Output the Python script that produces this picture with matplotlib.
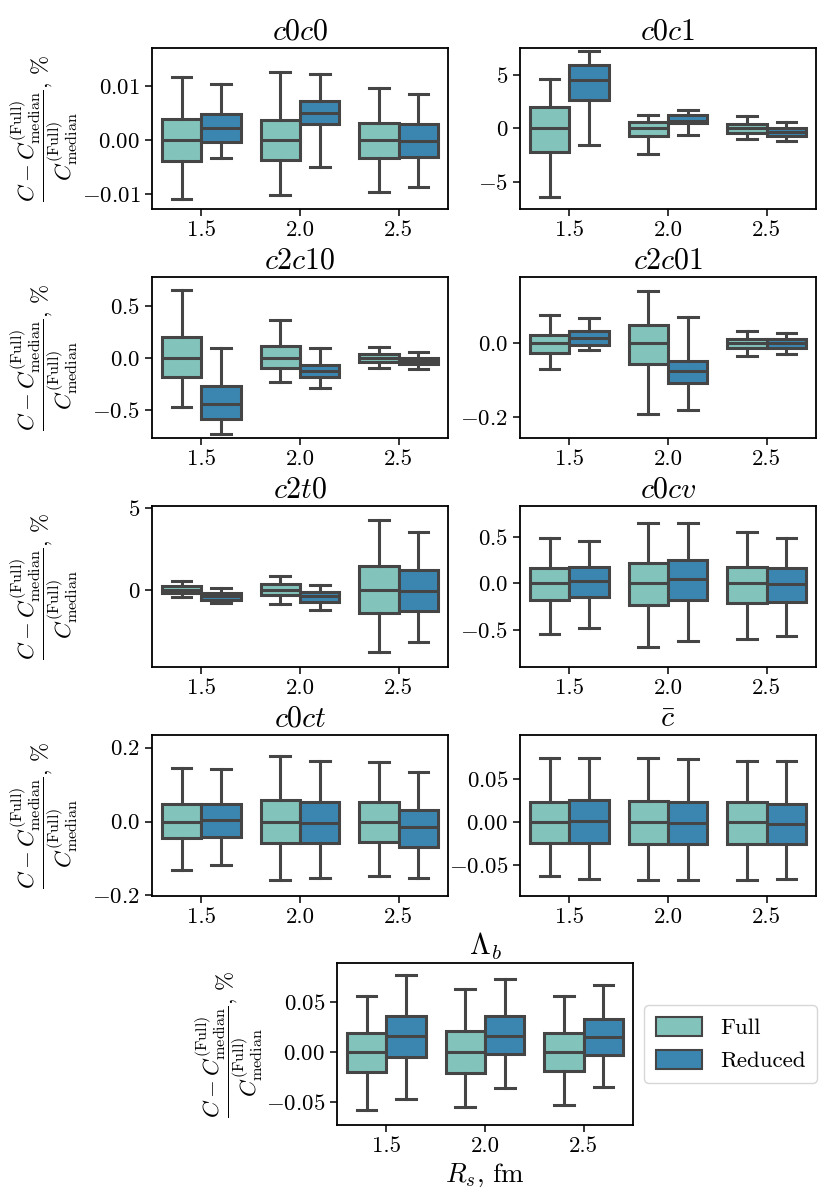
import matplotlib.pyplot as plt
from matplotlib.patches import Patch

plt.rcParams['font.family'] = 'serif'
plt.rcParams['font.serif'] = ['cmr10']
plt.rcParams['mathtext.fontset'] = 'cm'
plt.rcParams['axes.formatter.use_mathtext'] = True

radii = ['1.5', '2.0', '2.5']
groups = ['Full', 'Reduced']

# each row is one R_s: (lower whisker, Q1, median, Q3, upper whisker)
c0c0_full = [[-0.0110, -0.0039, 0.0, 0.0039, 0.0117],
             [-0.0102, -0.0037, 0.0, 0.0038, 0.0127],
             [-0.0096, -0.0034, 0.0, 0.0032, 0.0096]]
c0c0_red = [[-0.0033, -0.0004, 0.0023, 0.0048, 0.0104],
            [-0.0050, 0.0029, 0.0050, 0.0073, 0.0122],
            [-0.0087, -0.0032, -0.0001, 0.0030, 0.0086]]

c0c1_full = [[-6.41, -2.22, 0.0, 2.00, 4.69],
             [-2.44, -0.72, 0.0, 0.62, 1.31],
             [-1.00, -0.40, 0.0, 0.40, 1.15]]
c0c1_red = [[-1.60, 2.66, 4.53, 5.94, 7.28],
            [-0.63, 0.47, 0.72, 1.22, 1.69],
            [-1.19, -0.69, -0.30, 0.0, 0.59]]

c2c10_full = [[-0.465, -0.183, 0.0, 0.205, 0.650],
              [-0.225, -0.096, 0.0, 0.115, 0.366],
              [-0.093, -0.042, 0.0, 0.042, 0.106]]
c2c10_red = [[-0.725, -0.587, -0.440, -0.266, 0.102],
             [-0.289, -0.186, -0.122, -0.064, 0.096],
             [-0.100, -0.058, -0.030, 0.005, 0.060]]

c2c01_full = [[-0.0687, -0.026, 0.0, 0.0236, 0.076],
              [-0.191, -0.056, 0.0, 0.049, 0.143],
              [-0.0326, -0.0117, 0.0, 0.012, 0.0326]]
c2c01_red = [[-0.017, -0.0036, 0.0145, 0.0326, 0.068],
             [-0.179, -0.1075, -0.074, -0.047, 0.0725],
             [-0.028, -0.0117, 0.001, 0.012, 0.027]]

c2t0_full = [[-0.45, -0.18, 0.0, 0.23, 0.53],
             [-0.87, -0.32, 0.0, 0.35, 0.85],
             [-3.78, -1.44, 0.0, 1.45, 4.23]]
c2t0_red = [[-0.83, -0.63, -0.38, -0.18, 0.12],
            [-1.24, -0.73, -0.40, -0.16, 0.27],
            [-3.17, -1.30, -0.08, 1.20, 3.54]]

c0cv_full = [[-0.538, -0.172, 0.0, 0.168, 0.487],
             [-0.685, -0.230, 0.0, 0.215, 0.645],
             [-0.591, -0.208, 0.0, 0.179, 0.555]]
c0cv_red = [[-0.477, -0.144, 0.028, 0.179, 0.458],
            [-0.620, -0.179, 0.050, 0.254, 0.648],
            [-0.566, -0.197, -0.007, 0.168, 0.490]]

c0ct_full = [[-0.130, -0.0453, 0.0, 0.0474, 0.1456],
             [-0.159, -0.057, 0.0, 0.059, 0.178],
             [-0.147, -0.0545, 0.0, 0.054, 0.162]]
c0ct_red = [[-0.118, -0.041, 0.0045, 0.047, 0.142],
            [-0.154, -0.059, -0.0045, 0.052, 0.165],
            [-0.152, -0.069, -0.015, 0.032, 0.135]]

cbar_full = [[-0.0625, -0.0235, 0.0, 0.0228, 0.0744],
             [-0.0664, -0.0247, 0.0, 0.0243, 0.0744],
             [-0.0672, -0.0247, 0.0, 0.0235, 0.0706]]
cbar_red = [[-0.0652, -0.0235, 0.0008, 0.0255, 0.0744],
            [-0.0672, -0.0255, -0.0015, 0.0228, 0.0729],
            [-0.0660, -0.0258, -0.0023, 0.0208, 0.0706]]

lamb_full = [[-0.058, -0.020, 0.0, 0.0194, 0.056],
             [-0.055, -0.0207, 0.0, 0.021, 0.0634],
             [-0.0533, -0.0193, 0.0, 0.0194, 0.0567]]
lamb_red = [[-0.047, -0.0047, 0.0167, 0.036, 0.0774],
            [-0.0363, -0.002, 0.0167, 0.036, 0.0737],
            [-0.035, -0.0026, 0.0154, 0.0334, 0.0674]]

titles = ['$c0c0$', '$c0c1$', '$c2c10$', '$c2c01$', '$c2t0$',
          '$c0cv$', '$c0ct$', r'$\bar{c}$', r'$\Lambda_b$']
full_stats = [c0c0_full, c0c1_full, c2c10_full, c2c01_full, c2t0_full,
              c0cv_full, c0ct_full, cbar_full, lamb_full]
red_stats = [c0c0_red, c0c1_red, c2c10_red, c2c01_red, c2t0_red,
             c0cv_red, c0ct_red, cbar_red, lamb_red]
yticks = [[-0.01, 0.0, 0.01], [-5, 0, 5], [-0.5, 0.0, 0.5], [-0.2, 0.0],
          [0, 5], [-0.5, 0.0, 0.5], [-0.2, 0.0, 0.2], [-0.05, 0.0, 0.05],
          [-0.05, 0.0, 0.05]]
ylims = [(-0.0128, 0.0171), (-7.57, 7.56), (-0.767, 0.779), (-0.256, 0.180),
         (-4.7, 5.1), (-0.896, 0.831), (-0.2018, 0.2345), (-0.0853, 0.1007),
         (-0.073, 0.0894)]

col_full = '#82c3bc'
col_red = '#3a86b0'
edge = '#454545'

W, H = 831, 1204
fig = plt.figure(figsize=(W / 100, H / 100), dpi=100)

# axes boxes in pixels: left, top, width, height
boxes = []
for r, top in enumerate([48, 277, 506, 735]):
    boxes.append((152, top, 296, 161))
    boxes.append((520, top, 296, 161))
boxes.append((337, 963, 296, 162))

ylab = (r'$\dfrac{C - C^{\mathrm{(Full)}}_{\mathrm{median}}}'
        r'{C^{\mathrm{(Full)}}_{\mathrm{median}}}$, %')


def make_stats(rows):
    out = []
    for lo, q1, med, q3, hi in rows:
        out.append(dict(whislo=lo, q1=q1, med=med, q3=q3, whishi=hi, fliers=[]))
    return out


for i in range(9):
    x0, y0, w, h = boxes[i]
    ax = fig.add_axes([x0 / W, 1 - (y0 + h) / H, w / W, h / H])
    for stats, off, col in [(full_stats[i], -0.2, col_full), (red_stats[i], 0.2, col_red)]:
        ax.bxp(make_stats(stats), positions=[k + off for k in range(3)], widths=0.4,
               patch_artist=True, showfliers=False,
               boxprops=dict(facecolor=col, edgecolor=edge, linewidth=2.2),
               whiskerprops=dict(color=edge, linewidth=2.2),
               capprops=dict(color=edge, linewidth=2.2),
               medianprops=dict(color=edge, linewidth=2.2))
    ax.set_xlim(-0.5, 2.5)
    ax.set_xticks(range(3))
    ax.set_xticklabels(radii)
    ax.set_ylim(*ylims[i])
    ax.set_yticks(yticks[i])
    ax.tick_params(labelsize=16.5, length=5, width=1.1)
    for s in ax.spines.values():
        s.set_linewidth(1.3)
    ax.set_title(titles[i], fontsize=21.5, pad=6)
    if i % 2 == 0:
        ax.set_ylabel(ylab, fontsize=16.5)
        ax.yaxis.set_label_coords(-72 / w, 0.5)
    if i == 8:
        ax.set_xlabel('$R_s$, fm', fontsize=19.5)

handles = [Patch(facecolor=col_full, edgecolor=edge, linewidth=1.5, label='Full'),
           Patch(facecolor=col_red, edgecolor=edge, linewidth=1.5, label='Reduced')]
fig.legend(handles=handles, loc='center left', bbox_to_anchor=(633 / W, 1 - 1044 / H),
           fontsize=16.5, handlelength=2.0, handleheight=0.9, borderpad=0.5)

fig.savefig('out.png', dpi=100)
